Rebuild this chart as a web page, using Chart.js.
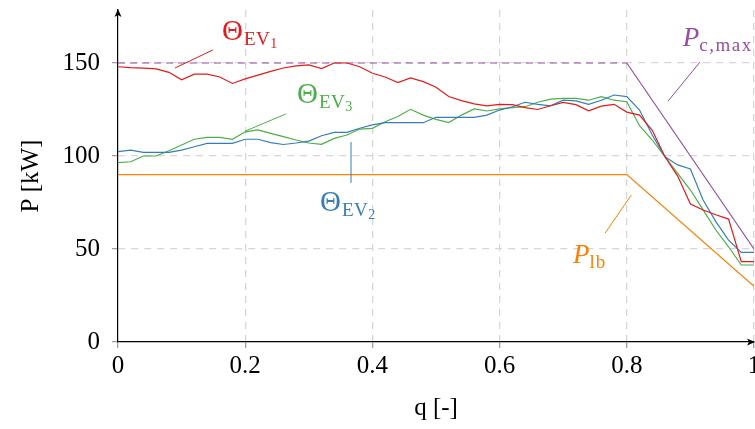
<!DOCTYPE html>
<html>
<head>
<meta charset="utf-8">
<script src="https://cdn.jsdelivr.net/npm/chart.js@4.4.1/dist/chart.umd.min.js"></script>
<style>
html, body { margin: 0; padding: 0; background: #fff; overflow: hidden; }
#wrap { width: 755px; height: 429px; }
</style>
</head>
<body>
<div id="wrap"><canvas id="chart"></canvas></div>
<script>
// state of charge q [-]
const qValues = [0, 0.02, 0.04, 0.06, 0.08, 0.1, 0.12, 0.14, 0.16, 0.18,
    0.2, 0.22, 0.24, 0.26, 0.28, 0.3, 0.32, 0.34, 0.36, 0.38,
    0.4, 0.42, 0.44, 0.46, 0.48, 0.5, 0.52, 0.54, 0.56, 0.58,
    0.6, 0.62, 0.64, 0.66, 0.68, 0.7, 0.72, 0.74, 0.76, 0.78,
    0.8, 0.82, 0.84, 0.86, 0.88, 0.9, 0.92, 0.94, 0.96, 0.98, 1];

// charging power P [kW]
const powerEV1 = [148, 147.5, 147.3, 146.8, 145, 141, 144, 144, 142.5, 139,
    141.5, 143.5, 145.5, 147.3, 148.5, 149, 147, 150, 150, 148,
    144.5, 142.5, 139.5, 142, 140, 137, 132, 129.8, 128, 127,
    127.8, 127.6, 126, 125, 127, 128.8, 127.6, 124.3, 126.8, 127.8,
    123.6, 122, 113.8, 99.6, 89.2, 74.2, 71, 68.4, 66.1, 43.2, 43.2];
const powerEV2 = [102.3, 103.2, 102, 102, 102, 103.2, 105, 106.8, 106.8, 106.8,
    109, 109, 107.2, 106.2, 107, 108, 110.9, 112.7, 112.7, 114.9,
    116.7, 117.9, 117.9, 117.9, 117.9, 120.8, 120.8, 120.8, 120.8, 122,
    124.7, 126.5, 128.9, 127.8, 127, 130, 129.6, 127.8, 130, 132.8,
    131.9, 124.7, 111.3, 99.6, 95.2, 93, 76.3, 64.7, 54.8, 48.2, 48.2];
const powerEV3 = [96.4, 96.9, 100, 100, 102.8, 105.9, 109, 110, 110, 109,
    113, 114, 112.2, 110.4, 108.6, 107, 106.3, 109.5, 111.3, 114.5,
    114.9, 118.4, 121.2, 125.1, 122, 119.7, 118, 122, 125.3, 124.2,
    125.3, 126, 126.5, 128.9, 130.6, 131, 131, 130, 131.9, 130,
    129.2, 116.3, 108.6, 99.6, 90.7, 81.7, 71, 60.2, 51.2, 41.4, 41.4];

// limits
const limitQ = [0, 0.8, 1];
const powerLowerBound = [90, 90, 30];
const powerChargerMax = [150, 150, 50];

const xTicks = [0, 0.2, 0.4, 0.6, 0.8, 1];
const yTicks = [0, 50, 100, 150];

const RED = '#e41a1c';
const BLUE = '#377eb8';
const GREEN = '#4daf4a';
const PURPLE = '#984ea3';
const ORANGE = '#ff7f00';
const SERIF = '"Liberation Serif", "DejaVu Serif", serif';

// text labels with their pointer lines, in data units
const annotations = [
    { color: RED, main: 'Θ', sub: 'EV', subsub: '1', at: [0.1635, 162.4], line: [[0.0896, 147.3], [0.149, 157]] },
    { color: GREEN, main: 'Θ', sub: 'EV', subsub: '3', at: [0.2814, 128.5], line: [[0.2, 113.4], [0.264, 122.6]] },
    { color: BLUE, main: 'Θ', sub: 'EV', subsub: '2', at: [0.3176, 70.4], line: [[0.3664, 107.5], [0.3664, 85.5]] },
    { color: PURPLE, main: 'P', italic: true, sub: 'c,max', spacing: '1.5px', at: [0.888, 159.1], line: [[0.865, 129.6], [0.915, 150.5]] },
    { color: ORANGE, main: 'P', italic: true, sub: 'lb', spacing: '1px', at: [0.7154, 42.5], line: [[0.766, 58.6], [0.807, 79]] }
];

function toPoints(xs, ys) {
    return xs.map((x, i) => ({ x: x, y: ys[i] }));
}

function lineSet(data, color) {
    return {
        data: data,
        borderColor: color,
        borderWidth: 1.2,
        pointRadius: 0,
        tension: 0,
        fill: false
    };
}

function axisGrid() {
    return {
        color: c => c.tick.value === 0 ? 'rgba(0,0,0,0)' : '#d6d6d6',
        lineWidth: 1.3,
        tickColor: '#a0a0a0',
        tickLength: 6,
        tickBorderDash: []
    };
}

const decorations = {
    id: 'decorations',
    afterDraw(chart) {
        const { ctx, chartArea, scales } = chart;
        const x = scales.x;
        const y = scales.y;
        ctx.save();

        // axis arrow heads
        ctx.fillStyle = '#000';
        ctx.beginPath();
        ctx.moveTo(chartArea.left, chartArea.top - 1);
        ctx.lineTo(chartArea.left - 3.5, chartArea.top + 7);
        ctx.lineTo(chartArea.left, chartArea.top + 5);
        ctx.lineTo(chartArea.left + 3.5, chartArea.top + 7);
        ctx.closePath();
        ctx.fill();
        ctx.beginPath();
        ctx.moveTo(chartArea.right + 1, chartArea.bottom);
        ctx.lineTo(chartArea.right - 7, chartArea.bottom - 3.5);
        ctx.lineTo(chartArea.right - 5, chartArea.bottom);
        ctx.lineTo(chartArea.right - 7, chartArea.bottom + 3.5);
        ctx.closePath();
        ctx.fill();

        // annotations
        annotations.forEach(a => {
            ctx.strokeStyle = a.color;
            ctx.fillStyle = a.color;
            ctx.lineWidth = 1;
            ctx.beginPath();
            ctx.moveTo(x.getPixelForValue(a.line[0][0]), y.getPixelForValue(a.line[0][1]));
            ctx.lineTo(x.getPixelForValue(a.line[1][0]), y.getPixelForValue(a.line[1][1]));
            ctx.stroke();

            let px = x.getPixelForValue(a.at[0]);
            const py = y.getPixelForValue(a.at[1]);
            ctx.textBaseline = 'alphabetic';
            ctx.textAlign = 'left';
            ctx.letterSpacing = '0px';
            ctx.font = (a.italic ? 'italic ' : '') + (a.italic ? '27px ' : '29px ') + SERIF;
            ctx.fillText(a.main, px, py);
            px += ctx.measureText(a.main).width + (a.italic ? 0 : 1);
            ctx.font = '19px ' + SERIF;
            ctx.letterSpacing = a.spacing || '0.5px';
            ctx.fillText(a.sub, px, py + 5);
            px += ctx.measureText(a.sub).width;
            ctx.letterSpacing = '0px';
            if (a.subsub) {
                ctx.font = '14px ' + SERIF;
                ctx.fillText(a.subsub, px, py + 8);
            }
        });
        ctx.restore();
    }
};

new Chart(document.getElementById('chart'), {
    type: 'line',
    data: {
        datasets: [
            lineSet(toPoints(qValues, powerEV1), RED),
            lineSet(toPoints(qValues, powerEV2), BLUE),
            lineSet(toPoints(qValues, powerEV3), GREEN),
            lineSet(toPoints(limitQ, powerLowerBound), ORANGE),
            Object.assign(lineSet(toPoints(limitQ, powerChargerMax), PURPLE), {
                segment: {
                    borderDash: c => c.p0DataIndex === 0 ? [7, 5] : undefined
                }
            })
        ]
    },
    options: {
        responsive: true,
        maintainAspectRatio: false,
        animation: false,
        layout: { padding: { top: 10, left: 0, right: 1, bottom: 0 } },
        plugins: {
            legend: { display: false },
            tooltip: { enabled: false }
        },
        scales: {
            x: {
                type: 'linear',
                min: 0,
                max: 1,
                afterBuildTicks: scale => { scale.ticks = xTicks.map(v => ({ value: v })); },
                afterFit: scale => {
                    scale.height = 87;
                    scale.paddingLeft = 0;
                    scale.paddingRight = 0;
                },
                ticks: {
                    color: '#000',
                    padding: 3,
                    maxRotation: 0,
                    font: { family: SERIF, size: 25 },
                    callback: v => String(v)
                },
                grid: axisGrid(),
                border: { color: '#000', width: 1.2, dash: [7, 6] },
                title: {
                    display: true,
                    text: 'q [-]',
                    color: '#000',
                    font: { family: SERIF, size: 25 },
                    padding: { top: 6, bottom: 6 }
                }
            },
            y: {
                type: 'linear',
                min: 0,
                max: 178.5,
                afterBuildTicks: scale => { scale.ticks = yTicks.map(v => ({ value: v })); },
                afterFit: scale => {
                    scale.width = 118;
                    scale.paddingTop = 0;
                    scale.paddingBottom = 0;
                },
                ticks: {
                    color: '#000',
                    padding: 12,
                    font: { family: SERIF, size: 25 },
                    callback: v => String(v)
                },
                grid: axisGrid(),
                border: { color: '#000', width: 1.2, dash: [7, 6] },
                title: {
                    display: true,
                    text: 'P [kW]',
                    color: '#000',
                    font: { family: SERIF, size: 25 },
                    padding: { top: 16, bottom: 0 }
                }
            }
        }
    },
    plugins: [decorations]
});
</script>
</body>
</html>
